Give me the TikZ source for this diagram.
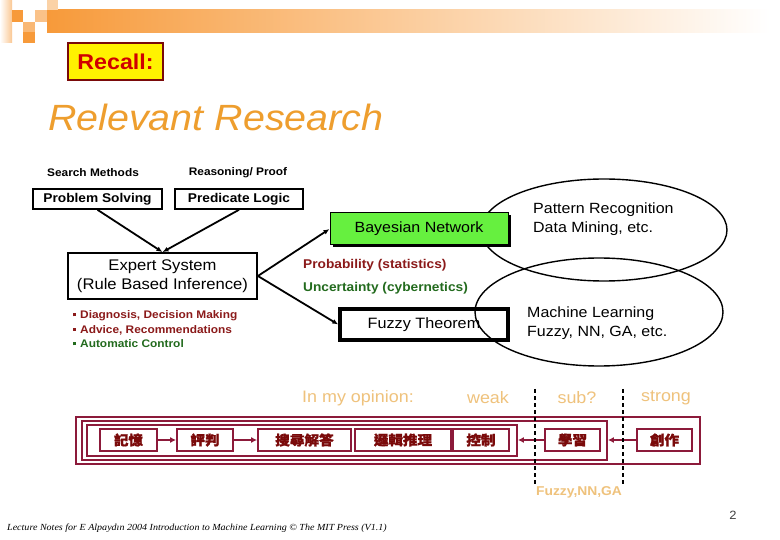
\documentclass[tikz,border=0pt]{standalone}
\usepackage{fontspec}
\setmainfont{Liberation Sans}[FakeStretch=1.08]
\newfontfamily\serif{Liberation Serif}[FakeStretch=1.08]
\newfontfamily\cjk{Noto Sans CJK TC}[FakeStretch=1.08,FakeBold=1.5]
\usetikzlibrary{positioning,arrows.meta,shapes.geometric,shadows}
\definecolor{BarOrange}{HTML}{F79A3A}
\definecolor{TitleOrange}{HTML}{EE9E2E}
\definecolor{RecallRed}{HTML}{D00000}
\definecolor{DarkMaroon}{HTML}{7A0A0A}
\definecolor{BandMaroon}{HTML}{8C1A3A}
\definecolor{NoteRed}{HTML}{8B1A1A}
\definecolor{NoteGreen}{HTML}{236B1E}
\definecolor{BayesGreen}{HTML}{66F03F}
\definecolor{OpinionTan}{HTML}{EFC27C}
\newcommand{\sqbul}{\rule[2.5pt]{3pt}{3pt}\hspace{4pt}}

\begin{document}
\begin{tikzpicture}[x=1pt,y=-1pt,
    every node/.style={inner sep=0pt},
    topic/.style={font=\fontsize{11}{13}\selectfont\bfseries},
    logicbox/.style={draw,line width=1.6pt,minimum height=20pt,font=\fontsize{12.7}{14}\selectfont\bfseries},
    bigbox/.style={draw,line width=1.8pt,align=center,font=\fontsize{15.4}{19}\selectfont},
    note/.style={anchor=west,font=\fontsize{11}{13}\selectfont\bfseries},
    field/.style={anchor=west,font=\fontsize{12.7}{14}\selectfont\bfseries},
    cloud/.style={draw,ellipse,line width=1.4pt},
    cloudtext/.style={anchor=west,align=left,font=\fontsize{14.8}{19}\selectfont},
    arrow/.style={-{Latex[length=6pt,width=5pt]},line width=1.8pt},
    band/.style={draw=BandMaroon,line width=1.8pt},
    cjkbox/.style={draw=BandMaroon,line width=1.8pt,minimum height=22pt,text=DarkMaroon,
      font=\cjk\bfseries\fontsize{13.5}{14}\selectfont},
    bandarrow/.style={-{Latex[length=6pt,width=6pt]},line width=2.2pt,draw=BandMaroon},
    opinion/.style={text=OpinionTan,font=\fontsize{16.6}{18}\selectfont},
    divider/.style={line width=1.4pt,dash pattern=on 4pt off 3pt}
]
  \useasboundingbox[fill=white] (0,0) rectangle (780,540);

  % header decoration
  \shade[left color=white,right color=BarOrange!55] (0,0) rectangle (12,43);
  \shade[left color=BarOrange,right color=white] (47,10) rectangle (770,33);
  \fill[BarOrange] (12,10) rectangle (23,22);
  \fill[BarOrange!70] (23,22) rectangle (35,32);
  \fill[BarOrange] (23,32) rectangle (35,43);
  \fill[BarOrange!60] (35,10) rectangle (47,22);
  \fill[BarOrange!45] (47,0) rectangle (58,10);

  \node[draw=DarkMaroon,line width=1.5pt,fill=yellow,minimum width=95pt,minimum height=37pt,
    text=RecallRed,font=\fontsize{21.5}{24}\selectfont\bfseries] (recall) at (115.5,61.5) {Recall:};
  \node[anchor=base west,text=TitleOrange,font=\fontsize{36.5}{40}\selectfont\itshape] (title) at (48,131) {Relevant Research};

  % logic part
  \node[topic] (search) at (93,173) {Search Methods};
  \node[topic] (reason) at (238,173) {Reasoning/ Proof};
  \node[logicbox,minimum width=129pt] (solving) at (97.5,199) {Problem Solving};
  \node[logicbox,minimum width=128pt] (predicate) at (239,199) {Predicate Logic};
  \node[bigbox,minimum width=189pt,minimum height=46pt] (expert) at (162.5,276)
    {Expert System\\(Rule Based Inference)};

  \node[note,text=NoteRed] (diag) at (73,316) {\sqbul Diagnosis, Decision Making};
  \node[note,text=NoteRed] (advice) at (73,330) {\sqbul Advice, Recommendations};
  \node[note,text=NoteGreen] (control) at (73,344) {\sqbul Automatic Control};

  \draw[arrow] (solving.south) -- (expert.north);
  \draw[arrow] (predicate.south) -- (expert.north);

  % uncertainty part
  \node[field,text=NoteRed] (prob) at (303,265) {Probability (statistics)};
  \node[field,text=NoteGreen] (uncert) at (303,288) {Uncertainty (cybernetics)};

  \node[draw,fill=white,line width=3.5pt,minimum width=168pt,minimum height=31pt,
    font=\fontsize{15}{17}\selectfont] (fuzzy) at (424,324.5) {Fuzzy Theorem};

  \node[cloud,minimum width=246pt,minimum height=102pt] (pattern) at (604,230) {};
  \node[cloud,minimum width=248pt,minimum height=108pt] (learning) at (599,312) {};
  \node[cloudtext] (patterntxt) at (533,219) {Pattern Recognition\\Data Mining, etc.};
  \node[cloudtext] (learningtxt) at (527,323) {Machine Learning\\Fuzzy, NN, GA, etc.};

  \node[draw,fill=BayesGreen,line width=1pt,minimum width=178pt,minimum height=32pt,
    drop shadow={shadow xshift=2.5pt,shadow yshift=-2.5pt,fill=black,opacity=1},
    font=\fontsize{14.8}{17}\selectfont] (bayes) at (419,229) {Bayesian Network};

  \draw[arrow] (expert.east) -- (bayes.west);
  \draw[arrow] (expert.east) -- (fuzzy.west);

  % opinion band
  \node[opinion] (opinion) at (358,398) {In my opinion:};
  \node[opinion] (weak) at (488,398) {weak};
  \node[opinion] (sub) at (577,398) {sub?};
  \node[opinion] (strong) at (666,398) {strong};

  \node[band,minimum width=624pt,minimum height=47pt] (outer) at (388,440.5) {};
  \node[band,minimum width=525pt,minimum height=39pt] (middle) at (344.5,440.5) {};
  \node[band,minimum width=430pt,minimum height=31pt] (inner) at (302,440.5) {};

  \node[cjkbox,minimum width=57pt] (memory) at (128.5,440) {記憶};
  \node[cjkbox,minimum width=56pt] (judge) at (205,440) {評判};
  \node[cjkbox,minimum width=93pt] (searchans) at (304.5,440) {搜尋解答};
  \node[cjkbox,minimum width=96pt] (logic) at (403,440) {邏輯推理};
  \node[cjkbox,minimum width=56pt] (ctrl) at (481,440) {控制};
  \node[cjkbox,minimum width=55pt] (learn) at (572.5,440) {學習};
  \node[cjkbox,minimum width=55pt] (create) at (664.5,440) {創作};

  \draw[bandarrow] (memory) -- (judge);
  \draw[bandarrow] (judge) -- (searchans);
  \draw[bandarrow] (learn.west) -- (learn.west -| inner.east);
  \draw[bandarrow] (create.west) -- (create.west -| middle.east);

  \coordinate (weaktop) at (535,389);
  \coordinate (weakbot) at (535,484);
  \coordinate (strongtop) at (623,389);
  \coordinate (strongbot) at (623,484);
  \draw[divider] (weaktop) -- (weakbot);
  \draw[divider] (strongtop) -- (strongbot);

  \node[text=OpinionTan,font=\fontsize{12.8}{14}\selectfont\bfseries] (fnn) at (579,492) {Fuzzy,NN,GA};

  % footer
  \node[text=black!75,font=\fontsize{12}{14}\selectfont] (page) at (733,515) {2};
  \node[anchor=west,font=\serif\itshape\fontsize{9.3}{11}\selectfont] (credit) at (7,528)
    {Lecture Notes for E Alpaydın 2004 Introduction to Machine Learning © The MIT Press (V1.1)};
\end{tikzpicture}
\end{document}
